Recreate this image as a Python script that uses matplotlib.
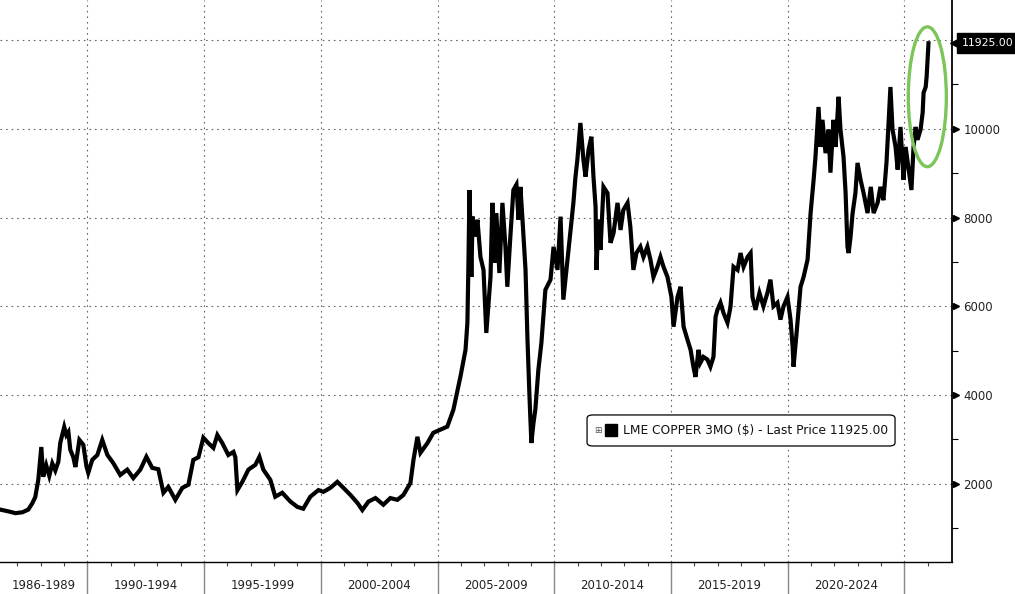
import matplotlib
matplotlib.use("Agg")
import matplotlib.pyplot as plt
import matplotlib.transforms as mtransforms
from matplotlib.patches import Ellipse, FancyBboxPatch
import numpy as np

# LME copper 3M price (decimal year, $/t)
years = [
    1986.27, 1986.62, 1986.92, 1987.22, 1987.47, 1987.64, 1987.77, 1987.90, 1988.03, 1988.11,
    1988.24, 1988.37, 1988.50, 1988.63, 1988.76, 1988.84, 1989.01, 1989.10, 1989.19, 1989.27,
    1989.40, 1989.49, 1989.66, 1989.83, 1989.96, 1990.04, 1990.21, 1990.43, 1990.64, 1990.86,
    1991.11, 1991.41, 1991.71, 1991.97, 1992.27, 1992.53, 1992.78, 1993.04, 1993.26, 1993.47,
    1993.77, 1994.07, 1994.33, 1994.54, 1994.76, 1994.97, 1995.18, 1995.40, 1995.57, 1995.78,
    1996.04, 1996.26, 1996.34, 1996.43, 1996.64, 1996.90, 1997.20, 1997.37, 1997.54, 1997.84,
    1998.05, 1998.35, 1998.70, 1999.00, 1999.25, 1999.55, 1999.90, 2000.11, 2000.41, 2000.71,
    2000.97, 2001.27, 2001.57, 2001.78, 2002.04, 2002.34, 2002.68, 2002.98, 2003.28, 2003.54,
    2003.84, 2003.97, 2004.14, 2004.27, 2004.57, 2004.82, 2005.12, 2005.42, 2005.68, 2005.98,
    2006.20, 2006.28, 2006.32, 2006.37, 2006.45, 2006.50, 2006.62, 2006.71, 2006.84, 2006.97,
    2007.09, 2007.27, 2007.35, 2007.44, 2007.52, 2007.65, 2007.78, 2007.91, 2007.99, 2008.12,
    2008.25, 2008.38, 2008.47, 2008.55, 2008.64, 2008.77, 2008.85, 2008.94, 2009.02, 2009.11,
    2009.19, 2009.32, 2009.45, 2009.62, 2009.84, 2009.97, 2010.14, 2010.27, 2010.39, 2010.61,
    2010.82, 2010.91, 2010.99, 2011.12, 2011.25, 2011.34, 2011.47, 2011.59, 2011.68, 2011.77,
    2011.81, 2011.89, 2011.98, 2012.11, 2012.28, 2012.41, 2012.54, 2012.71, 2012.84, 2012.96,
    2013.14, 2013.26, 2013.39, 2013.52, 2013.69, 2013.82, 2013.99, 2014.12, 2014.25, 2014.42,
    2014.55, 2014.68, 2014.85, 2015.02, 2015.11, 2015.28, 2015.41, 2015.54, 2015.71, 2015.84,
    2015.96, 2016.05, 2016.18, 2016.26, 2016.39, 2016.56, 2016.69, 2016.82, 2016.91, 2016.99,
    2017.12, 2017.25, 2017.42, 2017.55, 2017.68, 2017.85, 2017.98, 2018.11, 2018.28, 2018.41,
    2018.49, 2018.62, 2018.79, 2018.96, 2019.13, 2019.26, 2019.39, 2019.56, 2019.69, 2019.82,
    2019.99, 2020.12, 2020.21, 2020.25, 2020.38, 2020.55, 2020.68, 2020.85, 2020.98, 2021.11,
    2021.19, 2021.32, 2021.41, 2021.49, 2021.62, 2021.75, 2021.83, 2021.96, 2022.05, 2022.18,
    2022.26, 2022.39, 2022.48, 2022.56, 2022.61, 2022.69, 2022.78, 2022.90, 2022.99, 2023.12,
    2023.25, 2023.42, 2023.56, 2023.68, 2023.85, 2023.97, 2024.10, 2024.23, 2024.32, 2024.40,
    2024.49, 2024.62, 2024.71, 2024.83, 2024.96, 2025.05, 2025.18, 2025.30, 2025.39, 2025.48,
    2025.56, 2025.69, 2025.78, 2025.82, 2025.91, 2025.95, 2026.03,
]
prices = [
    1420, 1380, 1340, 1360, 1420, 1560, 1700, 2090, 2830, 2160,
    2420, 2180, 2460, 2300, 2500, 2920, 3280, 3100, 3170, 2770,
    2600, 2380, 2990, 2880, 2400, 2250, 2540, 2650, 2990, 2650,
    2470, 2200, 2320, 2130, 2320, 2610, 2360, 2330, 1800, 1930,
    1640, 1910, 1980, 2540, 2600, 3040, 2920, 2810, 3100, 2920,
    2650, 2720, 2600, 1860, 2045, 2320, 2430, 2610, 2320, 2090,
    1710, 1800, 1600, 1480, 1440, 1710, 1860, 1820, 1910, 2045,
    1910, 1750, 1570, 1410, 1600, 1680, 1530, 1680, 1640, 1750,
    2020, 2540, 3060, 2700, 2920, 3150, 3220, 3290, 3670, 4410,
    5020, 5630, 6820, 8620, 6660, 8020, 7570, 7950, 7110, 6820,
    5400, 6660, 8330, 6980, 8100, 6750, 8330, 7340, 6440, 7570,
    8620, 8740, 7950, 8690, 7950, 6820, 5310, 3960, 2920, 3370,
    3670, 4570, 5180, 6370, 6600, 7340, 6820, 8020, 6150, 7270,
    8330, 8920, 9300, 10130, 9300, 8920, 9530, 9820, 8920, 8240,
    6820, 7950, 7270, 8690, 8550, 7430, 7650, 8330, 7720, 8170,
    8330, 7790, 6820, 7200, 7340, 7110, 7340, 7050, 6660, 6890,
    7110, 6890, 6660, 6210, 5540, 6210, 6440, 5540, 5240, 5020,
    4640, 4410, 5020, 4730, 4860, 4800, 4640, 4860, 5760, 5920,
    6080, 5850, 5630, 5990, 6890, 6820, 7200, 6890, 7110, 7200,
    6210, 5920, 6300, 6000, 6300, 6600, 6000, 6080, 5700, 6000,
    6210, 5700, 5090, 4640, 5400, 6440, 6660, 7050, 8100, 8850,
    9370, 10490, 9590, 10200, 9450, 9980, 9010, 10200, 9590, 10720,
    9980, 9370, 8550, 7340, 7200, 7560, 8100, 8550, 9230, 8850,
    8550, 8100, 8690, 8100, 8330, 8690, 8390, 9230, 10130, 10940,
    9980, 9590, 9080, 10040, 8850, 9590, 9080, 8620, 9590, 10040,
    9750, 9980, 10360, 10810, 10940, 11170, 11925,
]

period_edges = [1990, 1995, 2000, 2005, 2010, 2015, 2020, 2025]
period_labels = ["1986-1989", "1990-1994", "1995-1999", "2000-2004",
                 "2005-2009", "2010-2014", "2015-2019", "2020-2024"]
y_major = [2000, 4000, 6000, 8000, 10000]
y_minor = [1000, 3000, 5000, 7000, 9000, 11000]
y_grid = [2000, 4000, 6000, 8000, 10000, 12000]
last_price = 11925.00
legend_label = "LME COPPER 3MO ($) - Last Price 11925.00"

plt.rcParams["font.family"] = ["DejaVu Sans"]

fig = plt.figure(figsize=(10.15, 5.94), dpi=100)
ax = fig.add_axes([0.0, 0.0539, 0.938, 0.9461])

x0, x1 = 1986.26, 2027.04
ax.set_xlim(x0, x1)
ax.set_ylim(240, 12900)

for e in period_edges:
    ax.axvline(e, color="#666666", lw=0.8, ls=(0, (1.5, 3.5)), zorder=1)
for g in y_grid:
    ax.axhline(g, color="#666666", lw=0.8, ls=(0, (1.5, 3.5)), zorder=1)

ax.plot(years, prices, color="black", lw=3.0, solid_joinstyle="miter", zorder=3)

for s in ["top", "left"]:
    ax.spines[s].set_visible(False)
ax.spines["right"].set_linewidth(1.3)
ax.spines["bottom"].set_linewidth(1.0)

# x axis: yearly ticks, period labels below
ax.set_xticks(np.arange(1987, 2027))
ax.tick_params(axis="x", length=3, width=0.8, color="#444444", labelbottom=False)
tb = mtransforms.blended_transform_factory(ax.transData, ax.transAxes)
for e in period_edges:
    ax.plot([e, e], [0, -0.06], color="#888888", lw=1.0, transform=tb, clip_on=False)
bounds = [x0] + period_edges
for i, lab in enumerate(period_labels):
    c = (bounds[i] + bounds[i + 1]) / 2
    ax.text(c, -0.041, lab, transform=tb, ha="center", va="center",
            fontsize=8.5, color="#222222")

# y axis on the right
ax.yaxis.tick_right()
ax.set_yticks(y_major)
ax.set_yticks(y_minor, minor=True)
ax.set_yticklabels([str(v) for v in y_major])
ax.tick_params(axis="y", which="major", length=0, pad=8, labelsize=8.5, labelcolor="#222222")
ax.tick_params(axis="y", which="minor", length=4, width=0.8, color="black")
ty = mtransforms.blended_transform_factory(ax.transAxes, ax.transData)
ax.plot([1.004] * len(y_major), y_major, ls="none", marker=">", ms=5, color="black",
        transform=ty, clip_on=False)

# last price tag: pointer triangle + black box
ax.plot([1.0055], [last_price], ls="none", marker="<", ms=10, color="black",
        transform=ty, clip_on=False)
ax.text(1.0105, last_price, f"{last_price:.2f}", transform=ty, ha="left", va="center",
        fontsize=7.8, color="white",
        bbox=dict(boxstyle="square,pad=0.45", fc="black", ec="black"))

# green ellipse highlight
ax.add_patch(Ellipse((2025.98, 10720), 1.63, 3150, fill=False, ec="#7cc55a", lw=2.4,
                     zorder=4, clip_on=False))

# legend box
box = FancyBboxPatch((0.6166, 0.2064), 0.3235, 0.0552,
                     boxstyle="round,pad=0,rounding_size=0.006", transform=ax.transAxes,
                     fc="white", ec="black", lw=0.9, zorder=5)
ax.add_patch(box)
ax.text(0.6285, 0.2345, "⊞", transform=ax.transAxes, ha="center", va="center",
        fontsize=6.5, color="#555555", zorder=6)
ax.plot([0.6415], [0.2345], marker="s", ms=9, color="black", transform=ax.transAxes,
        zorder=6, clip_on=False)
ax.text(0.6545, 0.2345, legend_label, transform=ax.transAxes, ha="left", va="center",
        fontsize=8.8, color="#111111", zorder=6)

fig.savefig("out.png", dpi=100)
